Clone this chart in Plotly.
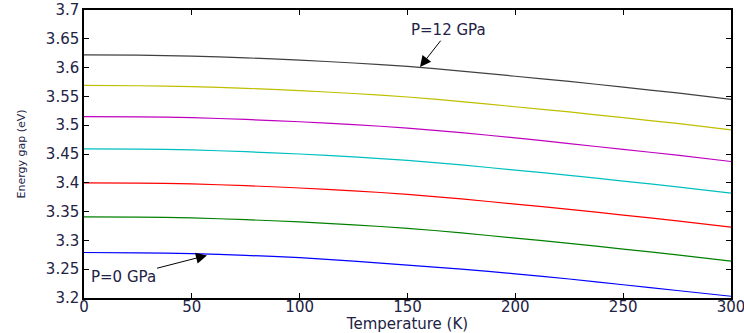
import plotly.graph_objects as go

temperature = [0, 25, 50, 75, 100, 125, 150, 175, 200, 225, 250, 275, 300]

gap_p0 = [3.279, 3.2785, 3.277, 3.274, 3.270, 3.264, 3.257, 3.250, 3.242, 3.233, 3.223, 3.213, 3.203]
gap_p2 = [3.341, 3.3405, 3.339, 3.336, 3.332, 3.327, 3.321, 3.313, 3.304, 3.295, 3.285, 3.275, 3.264]
gap_p4 = [3.400, 3.3995, 3.398, 3.395, 3.391, 3.386, 3.380, 3.372, 3.363, 3.354, 3.344, 3.334, 3.323]
gap_p6 = [3.459, 3.4585, 3.457, 3.454, 3.450, 3.445, 3.439, 3.431, 3.422, 3.413, 3.403, 3.393, 3.382]
gap_p8 = [3.515, 3.5145, 3.513, 3.510, 3.506, 3.501, 3.495, 3.487, 3.478, 3.468, 3.458, 3.448, 3.437]
gap_p10 = [3.569, 3.5685, 3.567, 3.564, 3.560, 3.555, 3.549, 3.541, 3.532, 3.523, 3.513, 3.503, 3.492]
gap_p12 = [3.622, 3.6215, 3.620, 3.617, 3.613, 3.608, 3.602, 3.594, 3.585, 3.576, 3.566, 3.556, 3.545]

series = [
    ("P=0 GPa", gap_p0, "#0000ff"),
    ("P=2 GPa", gap_p2, "#008000"),
    ("P=4 GPa", gap_p4, "#ff0000"),
    ("P=6 GPa", gap_p6, "#00bfbf"),
    ("P=8 GPa", gap_p8, "#bf00bf"),
    ("P=10 GPa", gap_p10, "#bfbf00"),
    ("P=12 GPa", gap_p12, "#404040"),
]

x_ticks = [0, 50, 100, 150, 200, 250, 300]
y_ticks = [3.2, 3.25, 3.3, 3.35, 3.4, 3.45, 3.5, 3.55, 3.6, 3.65, 3.7]
y_tick_labels = ["3.2", "3.25", "3.3", "3.35", "3.4", "3.45", "3.5", "3.55", "3.6", "3.65", "3.7"]

font_family = "DejaVu Sans"
label_color = "#222244"

fig = go.Figure()
for name, vals, color in series:
    fig.add_trace(go.Scatter(x=temperature, y=vals, mode="lines", name=name,
                             line=dict(color=color, width=1.2, shape="spline", smoothing=0.8)))

fig.add_annotation(x=155.8, y=3.601, ax=169.2, ay=3.665, xref="x", yref="y",
                   axref="x", ayref="y", text="P=12 GPa", showarrow=True,
                   arrowhead=2, arrowsize=2.2, arrowwidth=1, arrowcolor="black",
                   font=dict(family=font_family, size=15, color=label_color))
fig.add_annotation(x=57, y=3.274, ax=18.1, ay=3.2365, xref="x", yref="y",
                   axref="x", ayref="y", text="P=0 GPa", showarrow=True,
                   arrowhead=2, arrowsize=2.2, arrowwidth=1, arrowcolor="black",
                   font=dict(family=font_family, size=15, color=label_color))

axis_common = dict(showgrid=False, zeroline=False, showline=True, linecolor="black",
                   linewidth=1.5, mirror="ticks", ticks="inside", ticklen=5,
                   tickwidth=1, tickcolor="black", automargin=False,
                   ticklabeloverflow="allow",
                   tickfont=dict(family=font_family, size=15, color=label_color))

fig.update_xaxes(range=[0, 300], tickvals=x_ticks, ticklabelstandoff=-6,
                 title=dict(text="Temperature (K)", standoff=6,
                            font=dict(family=font_family, size=15, color=label_color)),
                 **axis_common)
fig.update_yaxes(range=[3.2, 3.7], tickvals=y_ticks, ticktext=y_tick_labels,
                 title=dict(text="Energy gap (eV)", standoff=18,
                            font=dict(family=font_family, size=11, color=label_color)),
                 **axis_common)

fig.update_layout(width=744, height=333, showlegend=False,
                  paper_bgcolor="white", plot_bgcolor="white",
                  margin=dict(l=84, r=13, t=10, b=35),
                  font=dict(family=font_family, color=label_color))

fig.write_html("out.html", config={"displayModeBar": False},
               post_script="document.body.style.margin='0';")
